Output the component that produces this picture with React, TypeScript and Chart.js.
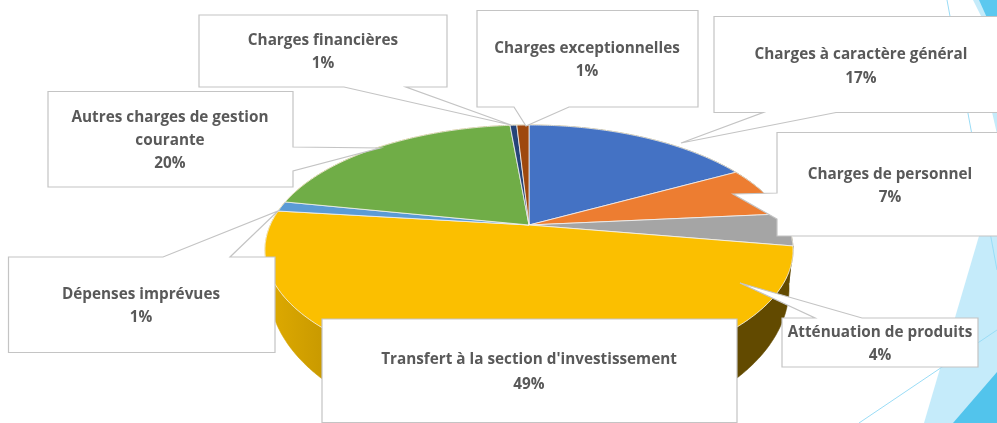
import React, { useEffect, useRef } from "react";
import { Chart, registerables } from "chart.js";

Chart.register(...registerables);

// ---- data ----
const categories = [
  "Charges à caractère général",
  "Charges de personnel",
  "Atténuation de produits",
  "Transfert à la section d'investissement",
  "Dépenses imprévues",
  "Autres charges de gestion courante",
  "Charges financières",
  "Charges exceptionnelles",
];
const sliceValues = [17, 6.5, 4.2, 49.2, 1.3, 20.4, 0.5, 0.9];
const percentLabels = ["17%", "7%", "4%", "49%", "1%", "20%", "1%", "1%"];
const sliceColors = ["#4472c4", "#ed7d31", "#a5a5a5", "#fbbf00", "#5b9bd5", "#70ad47", "#264478", "#9e480e"];

// ---- presentation ----
const W = 997;
const H = 423;
const FONT = "bold 15.3px 'Open Sans'";
const TEXT = "#595959";
const BORDER = "#c4c4c4";

// perspective projection of the pie disc
const PIE = { cx: 529, cy: 225, a: 258.7, b: 120, k: 0.2 };
const ELLIPSE = { cy: 250, rx: 264 };
const BASE = { cy: 288, rx: 260, sy: 1.2 };

type Pt = [number, number];
type Callout = { poly: Pt[]; lines: string[]; x: number; ys: number[] };

const callouts: Callout[] = [
  {
    poly: [[199, 15], [447, 15], [447, 87], [406, 87], [511, 125], [344, 87], [199, 87]],
    lines: ["Charges financières", percentLabels[6]], x: 323, ys: [41, 64],
  },
  {
    poly: [[477, 10.5], [698, 10.5], [698, 107], [569, 107], [526, 126], [514, 107], [477, 107]],
    lines: ["Charges exceptionnelles", percentLabels[7]], x: 587, ys: [49, 72],
  },
  {
    poly: [[714, 16.5], [1010, 16.5], [1010, 112.5], [836, 112.5], [681, 143], [763, 112.5], [714, 112.5]],
    lines: ["Charges à caractère général", percentLabels[0]], x: 861, ys: [55, 79],
  },
  {
    poly: [[777, 132.5], [1010, 132.5], [1010, 236], [777, 236], [777, 219], [733, 194], [777, 193]],
    lines: ["Charges de personnel", percentLabels[1]], x: 890, ys: [175, 198],
  },
  {
    poly: [[782, 318], [815, 318], [740, 283], [862, 318], [978, 318], [978, 367], [782, 367]],
    lines: ["Atténuation de produits", percentLabels[2]], x: 880, ys: [333, 356],
  },
  {
    poly: [[322, 319], [737, 319], [737, 422.5], [322, 422.5]],
    lines: ["Transfert à la section d'investissement", percentLabels[3]], x: 529, ys: [360, 385],
  },
  {
    poly: [[8.5, 257], [163, 257], [278, 211], [230, 257], [275, 257], [275, 352.5], [8.5, 352.5]],
    lines: ["Dépenses imprévues", percentLabels[4]], x: 141, ys: [295, 318],
  },
  {
    poly: [[48, 91.5], [293, 91.5], [293, 147], [380, 148], [293, 171], [293, 187], [48, 187]],
    lines: ["Autres charges de gestion", "courante", percentLabels[5]], x: 170, ys: [118, 141, 164],
  },
];

const project = (theta: number): Pt => {
  const u = Math.cos(theta);
  const v = -Math.sin(theta);
  const w = 1 + PIE.k * v;
  return [PIE.cx + (PIE.a * u) / w, PIE.cy - (PIE.b * v) / w];
};
const toBase = ([x, y]: Pt): Pt => [
  PIE.cx + ((x - PIE.cx) * BASE.rx) / ELLIPSE.rx,
  BASE.cy + (y - ELLIPSE.cy) * BASE.sy,
];
const rimPoints = (start: number, end: number): Pt[] => {
  const n = Math.max(4, Math.ceil((end - start) / 0.01));
  const out: Pt[] = [];
  for (let i = 0; i <= n; i++) out.push(project(start + ((end - start) * i) / n));
  return out;
};
const tracePoly = (ctx: CanvasRenderingContext2D, pts: Pt[]) => {
  ctx.beginPath();
  pts.forEach(([x, y], i) => (i ? ctx.lineTo(x, y) : ctx.moveTo(x, y)));
  ctx.closePath();
};

const fillPoly = (ctx: CanvasRenderingContext2D, pts: Pt[], color: string) => {
  tracePoly(ctx, pts);
  ctx.fillStyle = color;
  ctx.fill();
};
const strokeLine = (ctx: CanvasRenderingContext2D, a: Pt, b: Pt) => {
  ctx.beginPath();
  ctx.moveTo(a[0], a[1]);
  ctx.lineTo(b[0], b[1]);
  ctx.strokeStyle = "#9adcf6";
  ctx.lineWidth = 1;
  ctx.stroke();
};

const scenePlugin = {
  id: "scene",
  beforeDraw(chart: any) {
    const ctx: CanvasRenderingContext2D = chart.ctx;
    ctx.save();
    ctx.fillStyle = "#ffffff";
    ctx.fillRect(0, 0, W, H);
    // slide theme facets behind the chart
    fillPoly(ctx, [[973, 0], [997, 0], [997, 48]], "#c5ebfa");
    fillPoly(ctx, [[979, 0], [997, 0], [997, 40]], "#5cc8ef");
    fillPoly(ctx, [[992, 112], [997, 112], [997, 134], [997, 134]], "#c5ebfa");
    fillPoly(ctx, [[924, 423], [979, 236], [997, 175], [997, 423]], "#c5ebfa");
    fillPoly(ctx, [[953, 423], [997, 372], [997, 423]], "#52c4ec");
    strokeLine(ctx, [947, 0], [997, 270]);
    strokeLine(ctx, [859, 423], [997, 330]);
    ctx.restore();
  },
  beforeDatasetDraw(chart: any, args: any) {
    const ctx: CanvasRenderingContext2D = chart.ctx;
    const arcs = args.meta.data;
    ctx.save();
    ctx.lineJoin = "round";
    const grad = ctx.createLinearGradient(265, 0, 790, 0);
    grad.addColorStop(0, "#e0ab00");
    grad.addColorStop(0.11, "#c99a00");
    grad.addColorStop(0.55, "#8f6c00");
    grad.addColorStop(0.9, "#624a00");
    grad.addColorStop(1, "#624a00");
    // extruded wall
    arcs.forEach((arc: any) => {
      const rim = rimPoints(arc.startAngle, arc.endAngle);
      const base = rim.map(toBase).reverse();
      tracePoly(ctx, [...rim, ...base]);
      ctx.fillStyle = grad;
      ctx.strokeStyle = grad;
      ctx.lineWidth = 0.6;
      ctx.fill();
      ctx.stroke();
    });
    // top face
    arcs.forEach((arc: any, i: number) => {
      const rim = rimPoints(arc.startAngle, arc.endAngle);
      tracePoly(ctx, [[PIE.cx, PIE.cy], ...rim]);
      ctx.fillStyle = sliceColors[i];
      ctx.strokeStyle = "#f2f2f2";
      ctx.lineWidth = 0.8;
      ctx.fill();
      ctx.stroke();
    });
    ctx.restore();
    return false;
  },
  afterDraw(chart: any) {
    const ctx: CanvasRenderingContext2D = chart.ctx;
    ctx.save();
    callouts.forEach((c) => {
      tracePoly(ctx, c.poly);
      ctx.fillStyle = "#ffffff";
      ctx.strokeStyle = BORDER;
      ctx.lineWidth = 1.2;
      ctx.fill();
      ctx.stroke();
    });
    ctx.fillStyle = TEXT;
    ctx.font = FONT;
    ctx.textAlign = "center";
    ctx.textBaseline = "middle";
    callouts.forEach((c) => {
      c.lines.forEach((line, i) => ctx.fillText(line, c.x, c.ys[i]));
    });
    ctx.restore();
  },
};

export default function App() {
  const ref = useRef<HTMLCanvasElement | null>(null);
  useEffect(() => {
    document.body.style.margin = "0";
    const chart = new Chart(ref.current as HTMLCanvasElement, {
      type: "pie",
      data: {
        labels: categories,
        datasets: [{ data: sliceValues, backgroundColor: sliceColors, borderWidth: 0 }],
      },
      options: {
        responsive: false,
        animation: false,
        plugins: { legend: { display: false }, tooltip: { enabled: false } },
      },
      plugins: [scenePlugin],
    } as any);
    return () => chart.destroy();
  }, []);
  return (
    <div style={{ width: W, height: H, overflow: "hidden" }}>
      <canvas ref={ref} width={W} height={H} style={{ display: "block" }} />
    </div>
  );
}
